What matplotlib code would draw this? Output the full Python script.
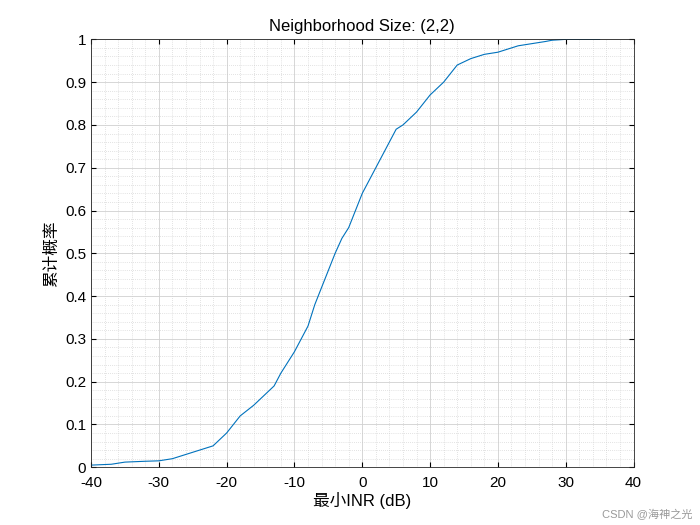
import matplotlib
matplotlib.use("Agg")
import matplotlib.pyplot as plt
import numpy as np

plt.rcParams['font.family'] = ['Liberation Sans', 'Noto Sans CJK SC', 'DejaVu Sans']
plt.rcParams['axes.unicode_minus'] = False

# 曲线读数（最小INR, 累计概率）
inr_db = [-40, -37, -35, -32, -30, -28, -27, -25, -23, -22, -21, -20, -19, -18, -16,
          -15, -13, -12, -11, -10, -9, -8, -7, -6, -5, -4, -3, -2, -1, 0,
          1, 2, 3, 4, 5, 6, 7, 8, 9, 10, 11, 12, 13, 14, 16,
          17, 18, 20, 22, 23, 25, 27, 28, 30, 33, 35]
cdf = [0.005, 0.007, 0.012, 0.014, 0.015, 0.02, 0.025, 0.035, 0.045, 0.05, 0.065, 0.08, 0.1, 0.12, 0.145,
       0.16, 0.19, 0.22, 0.245, 0.27, 0.3, 0.33, 0.38, 0.42, 0.46, 0.5, 0.535, 0.56, 0.6, 0.64,
       0.67, 0.7, 0.73, 0.76, 0.79, 0.8, 0.815, 0.83, 0.85, 0.87, 0.885, 0.9, 0.92, 0.94, 0.955,
       0.96, 0.965, 0.97, 0.98, 0.985, 0.99, 0.995, 0.998, 1.0, 1.0, 1.0]

fig = plt.figure(figsize=(7, 5.25), dpi=100)
ax = fig.add_axes([0.13, 0.11, 0.775, 0.815])
ax.plot(inr_db, cdf, color='#0072BD', linewidth=0.8)

ax.set_xlim(-40, 40)
ax.set_ylim(0, 1)
ax.set_xticks(np.arange(-40, 41, 10))
ax.set_yticks(np.arange(0, 1.01, 0.1))
ax.set_yticklabels(['0', '0.1', '0.2', '0.3', '0.4', '0.5', '0.6', '0.7', '0.8', '0.9', '1'])
ax.set_xticks(np.arange(-40, 41, 2), minor=True)
ax.set_yticks(np.arange(0, 1.001, 0.02), minor=True)
ax.grid(which='major', color='#d0d0d0', linewidth=0.6)
ax.grid(which='minor', color='#c8c8c8', linewidth=0.5, linestyle=(0, (1, 2)))
ax.tick_params(which='both', direction='in', top=True, right=True, labelsize=11)
ax.tick_params(axis='x', pad=6)
ax.tick_params(which='minor', length=0)
for s in ax.spines.values():
    s.set_color('#262626')
    s.set_linewidth(0.6)

ax.set_title('Neighborhood Size: (2,2)', fontsize=12)
ax.set_xlabel('最小INR (dB)', fontsize=12, labelpad=2)
ax.set_ylabel('累计概率', fontsize=12)

fig.text(0.99, 0.01, 'CSDN @海神之光', ha='right', va='bottom', fontsize=8, color='#999999')
fig.savefig('out.png', dpi=100, facecolor='white')
